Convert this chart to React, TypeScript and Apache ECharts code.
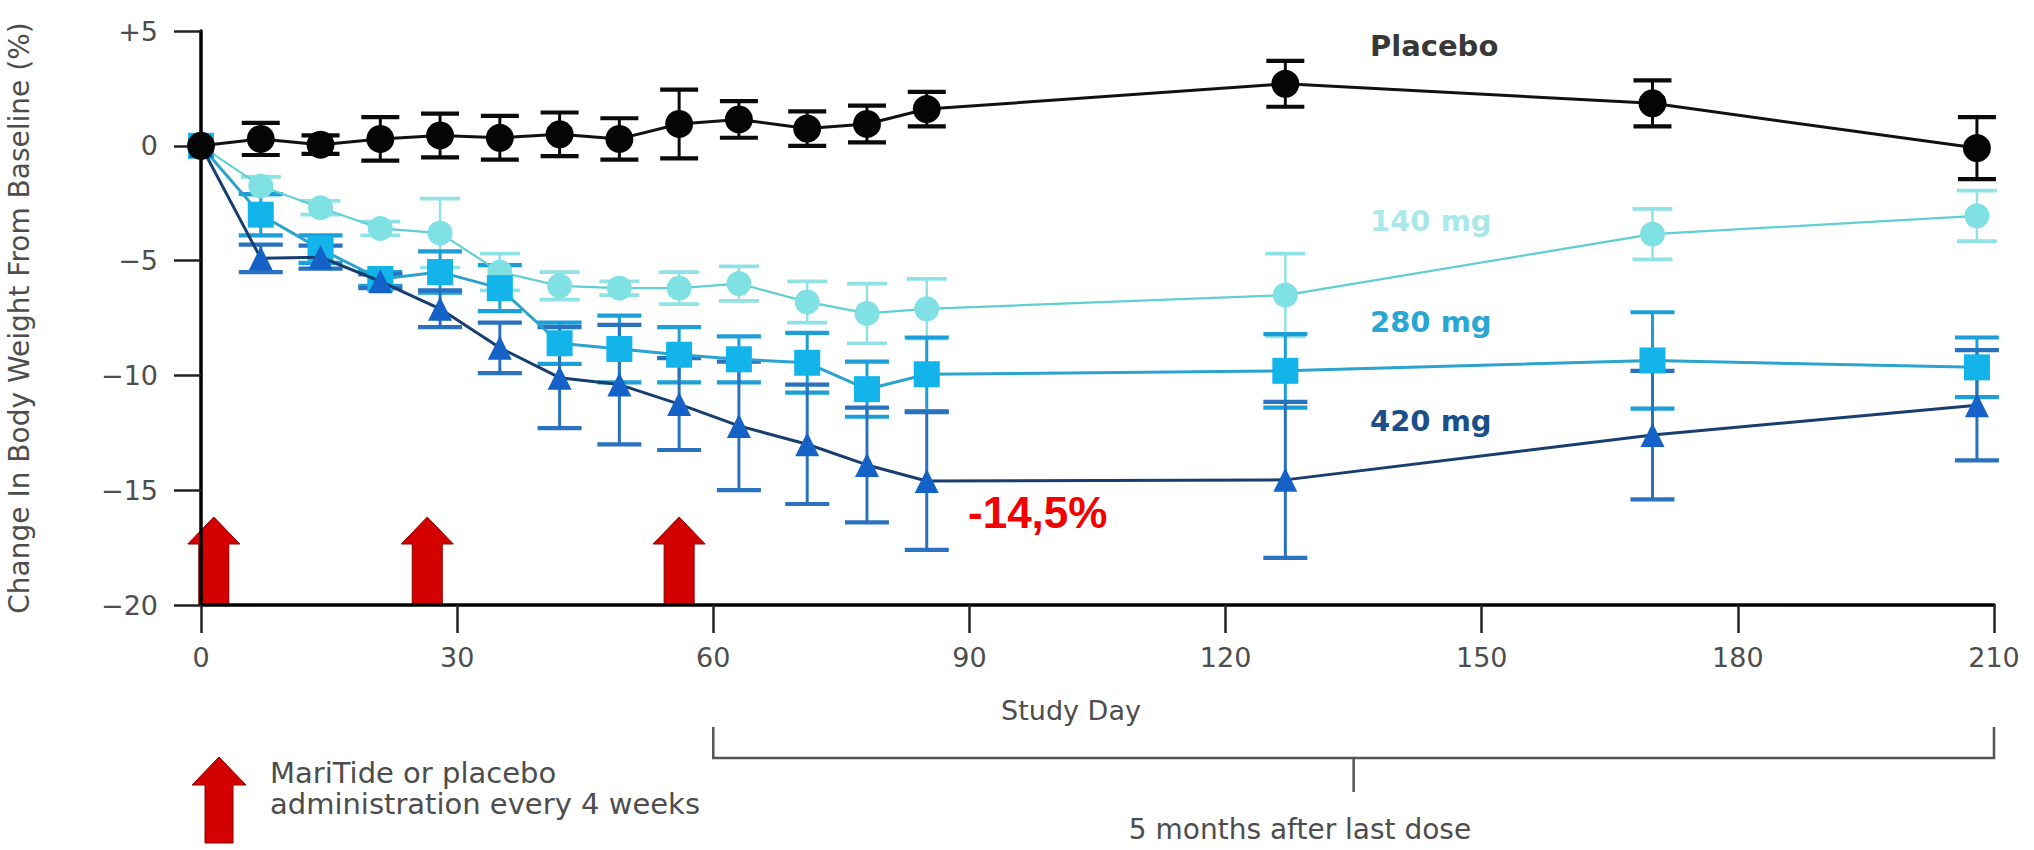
import React, { useEffect, useRef } from "react";
import * as echarts from "echarts";

// ---- data ----
const days = [0, 7, 14, 21, 28, 35, 42, 49, 56, 63, 71, 78, 85, 127, 170, 208];
const placebo = [0, 0.3, 0.05, 0.3, 0.45, 0.35, 0.5, 0.3, 0.95, 1.15, 0.75, 0.95, 1.6, 2.7, 1.85, -0.1];
const placeboErr = [0, 0.7, 0.4, 0.95, 0.95, 0.95, 0.95, 0.9, 1.5, 0.8, 0.75, 0.8, 0.75, 1.0, 1.0, 1.35];
const mg140 = [0, -1.75, -2.7, -3.6, -3.8, -5.5, -6.1, -6.2, -6.2, -6.0, -6.8, -7.3, -7.1, -6.5, -3.85, -3.05];
const mg140Err = [0, 0.4, 0.3, 0.3, 1.5, 0.8, 0.6, 0.3, 0.7, 0.75, 0.9, 1.3, 1.3, 1.8, 1.1, 1.1];
const mg280 = [0, -3.0, -4.5, -5.8, -5.5, -6.2, -8.6, -8.85, -9.1, -9.3, -9.45, -10.6, -9.95, -9.8, -9.35, -9.65];
const mg280Err = [0, 0.9, 0.6, 0.3, 0.9, 1.0, 0.9, 1.45, 1.2, 1.0, 1.3, 1.2, 1.6, 1.6, 2.1, 1.3];
const mg420 = [0, -4.9, -4.85, -5.9, -7.1, -8.8, -10.1, -10.4, -11.25, -12.2, -13.0, -13.9, -14.6, -14.55, -12.6, -11.3];
const mg420Err = [0, 0.6, 0.5, 0.3, 0.8, 1.1, 2.2, 2.6, 2.0, 2.8, 2.6, 2.5, 3.0, 3.4, 2.8, 2.4];
const doseDays = [1.5, 26.5, 56];
const seriesLabels = ["Placebo", "140 mg", "280 mg", "420 mg"];
const nadirLabel = "-14,5%";
const xTitle = "Study Day";
const yTitle = "Change In Body Weight From Baseline (%)";
const bracketLabel = "5 months after last dose";
const legendLines = ["MariTide or placebo", "administration every 4 weeks"];

const FONT = "'DejaVu Sans', sans-serif";
const GRAY = "#4d4d4d";

const errRender = (capW: number, color: string, lw: number) => (params: any, api: any) => {
  const x = api.value(0);
  const y = api.value(1);
  const e = api.value(2);
  if (!e) return { type: "group", children: [] };
  const hi = api.coord([x, y + e]);
  const lo = api.coord([x, y - e]);
  const st = { stroke: color, lineWidth: lw, fill: "none" };
  const cst = { stroke: color, lineWidth: lw + 1.2, fill: "none" };
  return {
    type: "group",
    children: [
      { type: "line", shape: { x1: hi[0], y1: hi[1], x2: lo[0], y2: lo[1] }, style: st },
      { type: "line", shape: { x1: hi[0] - capW / 2, y1: hi[1], x2: hi[0] + capW / 2, y2: hi[1] }, style: cst },
      { type: "line", shape: { x1: lo[0] - capW / 2, y1: lo[1], x2: lo[0] + capW / 2, y2: lo[1] }, style: cst },
    ],
  };
};

const arrowPoints = (x: number, base: number, len: number, headLen: number, hw: number, sw: number) => [
  [x - sw, base],
  [x - sw, base - len + headLen],
  [x - hw, base - len + headLen],
  [x, base - len],
  [x + hw, base - len + headLen],
  [x + sw, base - len + headLen],
  [x + sw, base],
];

const triples = (v: number[], e: number[]) => days.map((d, i) => [d, v[i], e[i]]);
const pairs = (v: number[]) => days.map((d, i) => [d, v[i]]);

export default function App() {
  const ref = useRef<HTMLDivElement>(null);
  useEffect(() => {
    if (!ref.current) return;
    const chart = echarts.init(ref.current, undefined, { renderer: "svg" });
    const errSeries = (name: string, v: number[], e: number[], cap: number, color: string, lw: number) => ({
      name: name + " err",
      type: "custom",
      renderItem: errRender(cap, color, lw),
      data: triples(v, e),
      encode: { x: 0, y: 1 },
      z: 2,
      silent: true,
    });
    const lineSeries = (name: string, v: number[], color: string, lineColor: string, lw: number, symbol: string, size: number, z: number) => ({
      name,
      type: "line",
      data: pairs(v),
      symbol,
      symbolSize: size,
      showSymbol: true,
      lineStyle: { color: lineColor, width: lw },
      itemStyle: { color, borderWidth: 0 },
      z,
      silent: true,
    });
    chart.setOption({
      animation: false,
      backgroundColor: "#ffffff",
      grid: { left: 201, right: 40, top: 31, bottom: 245, outerBoundsMode: "none" },
      xAxis: {
        type: "value",
        min: 0,
        max: 210,
        interval: 30,
        z: 5,
        splitLine: { show: false },
        axisLine: { onZero: false, lineStyle: { color: "#000", width: 3.5 } },
        axisTick: { length: 28, lineStyle: { color: "#222", width: 2.5 } },
        axisLabel: { margin: 39, color: GRAY, fontFamily: FONT, fontSize: 27 },
      },
      yAxis: {
        type: "value",
        min: -20,
        max: 5,
        interval: 5,
        z: 5,
        name: yTitle,
        nameLocation: "middle",
        nameGap: 168,
        nameRotate: 90,
        nameTextStyle: { color: GRAY, fontFamily: FONT, fontSize: 28 },
        splitLine: { show: false },
        axisLine: { onZero: false, lineStyle: { color: "#000", width: 3.5 } },
        axisTick: { length: 27, lineStyle: { color: "#222", width: 2.5 } },
        axisLabel: {
          margin: 43,
          color: GRAY,
          fontFamily: FONT,
          fontSize: 27,
          formatter: (v: number) => (v > 0 ? "+" + v : v < 0 ? "\u2212" + Math.abs(v) : String(v)),
        },
      },
      series: [
        {
          name: "dose",
          type: "custom",
          z: 1,
          silent: true,
          data: doseDays.map((d) => [d, -20]),
          encode: { x: 0, y: 1 },
          renderItem: (params: any, api: any) => {
            const p = api.coord([api.value(0), api.value(1)]);
            return {
              type: "polygon",
              shape: { points: arrowPoints(p[0], p[1], 88, 27, 26, 15) },
              style: { fill: "#d40000", stroke: "#8a0000", lineWidth: 1 },
            };
          },
        },
        errSeries("140 mg", mg140, mg140Err, 40, "#8fe3e6", 2.5),
        errSeries("280 mg", mg280, mg280Err, 44, "#1c9fd8", 3),
        errSeries("420 mg", mg420, mg420Err, 44, "#2a72bd", 3),
        errSeries("Placebo", placebo, placeboErr, 38, "#0a0a0a", 3),
        lineSeries("140 mg", mg140, "#7fe1e4", "#5fcfd2", 2.2, "circle", 25, 3),
        lineSeries("280 mg", mg280, "#12b4ea", "#2aa3cf", 3, "rect", 26, 4),
        lineSeries("420 mg", mg420, "#1462c8", "#173e6e", 3, "triangle", 24, 5),
        lineSeries("Placebo", placebo, "#050505", "#111111", 3, "circle", 28, 6),
      ],
    });

    const px = (d: number) => chart.convertToPixel({ xAxisIndex: 0 }, d) as number;
    const x60 = px(60);
    const x210 = px(210);
    const xMid = px(135);
    const labelX = 1370;
    const lbl = (text: string, y: number, fill: string) => ({
      type: "text",
      x: labelX,
      y,
      silent: true,
      style: { text, fill, font: `bold 29px ${FONT}`, align: "left", verticalAlign: "middle" },
    });
    chart.setOption({
      graphic: [
        lbl(seriesLabels[0], 46, "#383838"),
        lbl(seriesLabels[1], 221, "#a9e8e8"),
        lbl(seriesLabels[2], 322, "#2aa6d2"),
        lbl(seriesLabels[3], 421, "#1c4f8a"),
        {
          type: "text",
          x: px(98),
          y: 512,
          silent: true,
          style: {
            text: nadirLabel,
            fill: "#f20000",
            font: "bold 44px 'Liberation Sans', Arial, sans-serif",
            align: "center",
            verticalAlign: "middle",
          },
        },
        {
          type: "text",
          x: 1071,
          y: 710,
          silent: true,
          style: { text: xTitle, fill: GRAY, font: `27px ${FONT}`, align: "center", verticalAlign: "middle" },
        },
        {
          type: "polyline",
          silent: true,
          shape: { points: [[x60, 727], [x60, 758], [x210, 758], [x210, 727]] },
          style: { stroke: "#555", lineWidth: 2.5, fill: "none" },
        },
        {
          type: "line",
          silent: true,
          shape: { x1: xMid, y1: 758, x2: xMid, y2: 792 },
          style: { stroke: "#555", lineWidth: 2.5 },
        },
        {
          type: "text",
          x: 1300,
          y: 829,
          silent: true,
          style: { text: bracketLabel, fill: GRAY, font: `28px ${FONT}`, align: "center", verticalAlign: "middle" },
        },
        {
          type: "polygon",
          silent: true,
          shape: { points: arrowPoints(219, 843, 86, 28, 27, 14) },
          style: { fill: "#d40000", stroke: "#8a0000", lineWidth: 1 },
        },
        {
          type: "text",
          x: 270,
          y: 773,
          silent: true,
          style: { text: legendLines[0], fill: GRAY, font: `29px ${FONT}`, align: "left", verticalAlign: "middle" },
        },
        {
          type: "text",
          x: 270,
          y: 804,
          silent: true,
          style: { text: legendLines[1], fill: GRAY, font: `29px ${FONT}`, align: "left", verticalAlign: "middle" },
        },
      ],
    });
    return () => chart.dispose();
  }, []);
  return <div ref={ref} style={{ position: "absolute", left: 0, top: 0, width: 2034, height: 850 }} />;
}
